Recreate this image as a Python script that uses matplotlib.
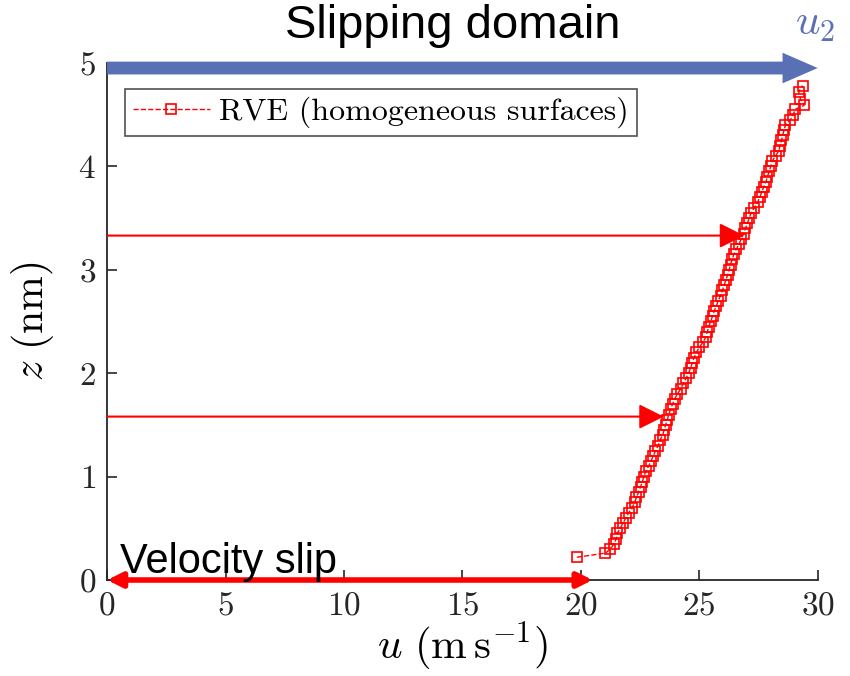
import matplotlib
matplotlib.use("Agg")
import matplotlib.pyplot as plt

plt.rcParams["font.family"] = ["cmr10", "DejaVu Serif"]
plt.rcParams["mathtext.fontset"] = "cm"
plt.rcParams["axes.formatter.use_mathtext"] = True

# RVE velocity profile (homogeneous surfaces)
z_nm = [0.22, 0.26, 0.30, 0.35, 0.40, 0.45, 0.50, 0.55, 0.60, 0.65, 0.70, 0.75,
        0.80, 0.85, 0.90, 0.95, 1.00, 1.05, 1.10, 1.15, 1.20, 1.25, 1.30, 1.35,
        1.40, 1.45, 1.50, 1.55, 1.60, 1.65, 1.70, 1.75, 1.80, 1.85, 1.90, 1.95,
        2.00, 2.05, 2.10, 2.15, 2.20, 2.25, 2.30, 2.35, 2.40, 2.45, 2.50, 2.55,
        2.60, 2.65, 2.70, 2.75, 2.80, 2.85, 2.90, 2.95, 3.00, 3.05, 3.10, 3.15,
        3.20, 3.25, 3.30, 3.35, 3.40, 3.45, 3.50, 3.55, 3.60, 3.65, 3.70, 3.75,
        3.80, 3.85, 3.90, 3.95, 4.00, 4.05, 4.10, 4.15, 4.20, 4.25, 4.30, 4.35,
        4.40, 4.45, 4.50, 4.55, 4.59, 4.65, 4.72, 4.78]
u_ms = [19.83, 21.04, 21.25, 21.40, 21.50, 21.53, 21.66, 21.78, 21.90, 22.02, 22.17, 22.27,
        22.35, 22.44, 22.52, 22.60, 22.66, 22.74, 22.86, 22.96, 23.06, 23.15, 23.26, 23.34,
        23.45, 23.52, 23.58, 23.65, 23.71, 23.79, 23.87, 23.96, 24.08, 24.22, 24.32, 24.44,
        24.55, 24.63, 24.71, 24.78, 24.88, 25.00, 25.16, 25.28, 25.34, 25.40, 25.48, 25.56,
        25.63, 25.72, 25.80, 25.90, 25.98, 26.05, 26.12, 26.20, 26.26, 26.32, 26.39, 26.46,
        26.57, 26.68, 26.78, 26.87, 26.95, 27.03, 27.11, 27.19, 27.32, 27.46, 27.55, 27.64,
        27.72, 27.81, 27.88, 27.95, 28.02, 28.08, 28.22, 28.36, 28.41, 28.47, 28.52, 28.58,
        28.64, 28.85, 28.97, 29.05, 29.43, 29.27, 29.20, 29.36]

x_ticks = [0, 5, 10, 15, 20, 25, 30]
y_ticks = [0, 1, 2, 3, 4, 5]

# annotation arrows (u, z)
u_slip = 20.5
u_top = 30.0
z_top = 4.95
red_arrows = [(26.9, 3.33), (23.5, 1.58)]

RED = "#ff0000"
BLUE = "#5a70b5"

fig = plt.figure(figsize=(8.5, 6.76), dpi=100)
ax = fig.add_axes([0.126, 0.142, 0.836, 0.765])

ax.plot(u_ms, z_nm, linestyle="--", color=RED, linewidth=1.0,
        marker="s", markersize=6.5, markerfacecolor="none", markeredgecolor=RED,
        markeredgewidth=1.2, label="RVE (homogeneous surfaces)")

ax.set_xlim(0, 30)
ax.set_ylim(0, 5)
ax.set_xticks(x_ticks)
ax.set_yticks(y_ticks)
ax.tick_params(direction="in", length=7, width=1.2, labelsize=24, color="#262626",
               labelcolor="#262626", pad=8)
for side in ["top", "right"]:
    ax.spines[side].set_visible(False)
for side in ["left", "bottom"]:
    ax.spines[side].set_color("#262626")
    ax.spines[side].set_linewidth(1.3)

ax.set_xlabel(r"$u\ (\mathrm{m\,s^{-1}})$", fontsize=31, labelpad=0)
ax.set_ylabel(r"$z\ (\mathrm{nm})$", fontsize=30, labelpad=16)

leg = ax.legend(loc="upper left", bbox_to_anchor=(0.025, 0.95), fontsize=23,
                frameon=True, fancybox=False, edgecolor="#262626",
                handlelength=2.4, borderpad=0.25, handletextpad=0.3, borderaxespad=0)
leg.get_frame().set_linewidth(1.2)

# red arrows pointing into the profile
for u_tip, z_arr in red_arrows:
    ax.annotate("", xy=(u_tip, z_arr), xytext=(0, z_arr),
                arrowprops=dict(arrowstyle="-|>", color=RED, lw=1.5,
                                mutation_scale=38, shrinkA=0, shrinkB=0))

# velocity slip double arrow
ax.annotate("", xy=(u_slip, 0), xytext=(0, 0), annotation_clip=False,
            arrowprops=dict(arrowstyle="<|-|>", color=RED, lw=4,
                            mutation_scale=22, shrinkA=0, shrinkB=0))
ax.text(0.55, 0.07, "Velocity slip", fontsize=30, family="Liberation Sans",
        va="baseline", ha="left", color="black")

# top wall velocity
ax.annotate("", xy=(u_top, z_top), xytext=(0, z_top), annotation_clip=False,
            arrowprops=dict(arrowstyle="simple,head_length=1.15,head_width=1.0,tail_width=0.42",
                            color=BLUE, lw=0, mutation_scale=22, shrinkA=0, shrinkB=0))
fig.text(0.935, 0.948, r"$u_{\mathit{2}}$", fontsize=31, color=BLUE, ha="left", va="baseline")

fig.text(0.533, 0.944, "Slipping domain", fontsize=34, family="Liberation Sans",
         ha="center", va="baseline")

fig.savefig("out.png", dpi=100)
